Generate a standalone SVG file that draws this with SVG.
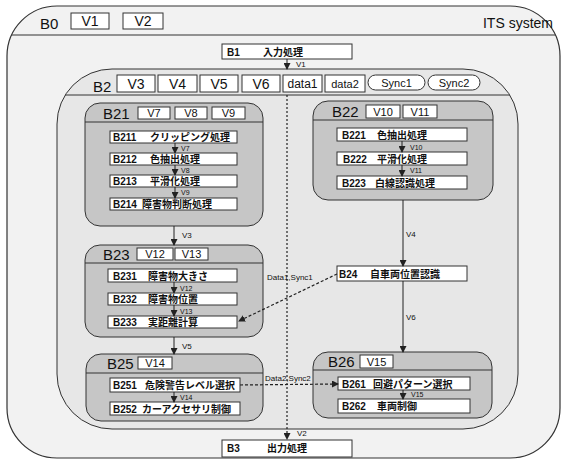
<svg xmlns="http://www.w3.org/2000/svg" width="565" height="460" viewBox="0 0 565 460">
<style>
.t{font-family:"Liberation Sans","Noto Sans CJK JP",sans-serif;fill:#111}
.frame{fill:#f2f2f2;stroke:#333;stroke-width:1.2}
.b2{fill:#e7e7e7;stroke:#333;stroke-width:1}
.grp{fill:#c6c6c6;stroke:#333;stroke-width:1}
.box{fill:#fff;stroke:#333;stroke-width:1}
.hl{stroke:#333;stroke-width:1;fill:none}
.big{font-size:15px}
.hdr{font-size:14px}
.gh{font-size:11px}
.sm{font-size:10px;font-weight:bold}
.lbl{font-size:7px}
.lb8{font-size:8px}
.arr{stroke:#222;stroke-width:1;fill:none;marker-end:url(#ah)}
.dash{stroke:#222;stroke-width:1.2;fill:none;stroke-dasharray:3 2;marker-end:url(#ah)}
.dot{stroke:#222;stroke-width:1.2;fill:none;stroke-dasharray:2 2;marker-end:url(#ah)}
</style>
<defs>
<marker id="ah" markerWidth="7" markerHeight="7" refX="6" refY="3.5" orient="auto" markerUnits="userSpaceOnUse">
<path d="M0,0 L7,3.5 L0,7 Z" fill="#222"/>
</marker>
<clipPath id="c0"><rect x="7" y="6" width="553" height="452" rx="50" ry="50"/></clipPath>
<clipPath id="c2"><rect x="57" y="69" width="461" height="360" rx="55" ry="55"/></clipPath>
</defs>

<g id="B0">
<rect class="frame" x="7" y="6" width="553" height="452" rx="50" ry="50"/>
<line class="hl" x1="7" y1="35" x2="560" y2="35" clip-path="url(#c0)"/>
<text class="t big" x="40" y="29">B0</text>
<rect class="box" x="71" y="13" width="38" height="16"/>
<text class="t hdr" x="90" y="26" text-anchor="middle">V1</text>
<rect class="box" x="123" y="13" width="40" height="16"/>
<text class="t hdr" x="143" y="26" text-anchor="middle">V2</text>
<text class="t hdr" x="553" y="28" text-anchor="end">ITS system</text>
</g>

<g id="B1">
<rect class="box" x="222" y="44" width="130" height="15"/>
<text class="t sm" x="227" y="56">B1</text>
<text class="t sm" x="263" y="56">入力処理</text>
</g>

<g id="B2">
<rect class="b2" x="57" y="69" width="461" height="360" rx="55" ry="55"/>
<line class="hl" x1="57" y1="95" x2="518" y2="95" clip-path="url(#c2)"/>
<text class="t big" x="93" y="92">B2</text>
<rect class="box" x="117" y="75" width="38" height="17"/>
<text class="t hdr" x="136" y="89" text-anchor="middle">V3</text>
<rect class="box" x="158" y="75" width="39" height="17"/>
<text class="t hdr" x="177.5" y="89" text-anchor="middle">V4</text>
<rect class="box" x="200" y="75" width="38" height="17"/>
<text class="t hdr" x="219" y="89" text-anchor="middle">V5</text>
<rect class="box" x="242" y="75" width="38" height="17"/>
<text class="t hdr" x="261" y="89" text-anchor="middle">V6</text>
<rect class="box" x="283" y="75" width="39" height="17"/>
<text class="t" x="302.5" y="88" text-anchor="middle" font-size="12">data1</text>
<rect class="box" x="325" y="75" width="40" height="17"/>
<text class="t" x="345" y="88" text-anchor="middle" font-size="11">data2</text>
<rect class="box" x="368" y="75" width="57" height="15" rx="7.5" ry="7.5"/>
<text class="t" x="396.5" y="87" text-anchor="middle" font-size="11">Sync1</text>
<rect class="box" x="428" y="75" width="52" height="15" rx="7.5" ry="7.5"/>
<text class="t" x="454" y="87" text-anchor="middle" font-size="11">Sync2</text>
</g>

<g id="B21">
<rect class="grp" x="85" y="103" width="178" height="123" rx="15" ry="15"/>
<line class="hl" x1="85" y1="122" x2="263" y2="122"/>
<text class="t big" x="103" y="119">B21</text>
<rect class="box" x="138" y="107" width="32" height="12"/>
<text class="t gh" x="154" y="117" text-anchor="middle">V7</text>
<rect class="box" x="175" y="107" width="32" height="12"/>
<text class="t gh" x="191" y="117" text-anchor="middle">V8</text>
<rect class="box" x="212" y="107" width="33" height="12"/>
<text class="t gh" x="228.5" y="117" text-anchor="middle">V9</text>
</g>
<g id="B211"><rect class="box" x="110" y="131" width="127" height="12"/><text class="t sm" x="113" y="141">B211</text><text class="t sm" x="150" y="141">クリッピング処理</text></g>
<g id="B212"><rect class="box" x="110" y="153" width="127" height="12"/><text class="t sm" x="113" y="163">B212</text><text class="t sm" x="150" y="163">色抽出処理</text></g>
<g id="B213"><rect class="box" x="110" y="175" width="127" height="12"/><text class="t sm" x="113" y="185">B213</text><text class="t sm" x="150" y="185">平滑化処理</text></g>
<g id="B214"><rect class="box" x="110" y="198" width="127" height="12"/><text class="t sm" x="113" y="208">B214</text><text class="t sm" x="142" y="208">障害物判断処理</text></g>

<g id="B22">
<rect class="grp" x="313" y="101" width="180" height="99" rx="15" ry="15"/>
<line class="hl" x1="313" y1="120" x2="493" y2="120"/>
<text class="t big" x="332" y="117">B22</text>
<rect class="box" x="366" y="105" width="34" height="13"/>
<text class="t gh" x="383" y="115.5" text-anchor="middle">V10</text>
<rect class="box" x="403" y="105" width="34" height="13"/>
<text class="t gh" x="420" y="115.5" text-anchor="middle">V11</text>
</g>
<g id="B221"><rect class="box" x="337" y="128" width="130" height="13"/><text class="t sm" x="342" y="138.5">B221</text><text class="t sm" x="377" y="138.5">色抽出処理</text></g>
<g id="B222"><rect class="box" x="337" y="152" width="130" height="13"/><text class="t sm" x="343" y="162.5">B222</text><text class="t sm" x="377" y="162.5">平滑化処理</text></g>
<g id="B223"><rect class="box" x="337" y="176" width="130" height="13"/><text class="t sm" x="342" y="186.5">B223</text><text class="t sm" x="375" y="186.5">白線認識処理</text></g>

<g id="B23">
<rect class="grp" x="85" y="245" width="178" height="92" rx="15" ry="15"/>
<line class="hl" x1="85" y1="263" x2="263" y2="263"/>
<text class="t big" x="103" y="260">B23</text>
<rect class="box" x="137" y="248" width="36" height="12"/>
<text class="t gh" x="155" y="258" text-anchor="middle">V12</text>
<rect class="box" x="175" y="248" width="33" height="12"/>
<text class="t gh" x="191.5" y="258" text-anchor="middle">V13</text>
</g>
<g id="B231"><rect class="box" x="108" y="269" width="129" height="13"/><text class="t sm" x="113" y="279.5">B231</text><text class="t sm" x="148" y="279.5">障害物大きさ</text></g>
<g id="B232"><rect class="box" x="108" y="293" width="129" height="12"/><text class="t sm" x="113" y="303">B232</text><text class="t sm" x="148" y="303">障害物位置</text></g>
<g id="B233"><rect class="box" x="108" y="316" width="129" height="12"/><text class="t sm" x="113" y="326">B233</text><text class="t sm" x="148" y="326">実距離計算</text></g>

<g id="B24">
<rect class="box" x="337" y="266" width="130" height="15"/>
<text class="t sm" x="339" y="277.5">B24</text>
<text class="t sm" x="370" y="277.5">自車両位置認識</text>
</g>

<g id="B25">
<rect class="grp" x="86" y="354" width="177" height="67" rx="15" ry="15"/>
<line class="hl" x1="86" y1="373" x2="263" y2="373"/>
<text class="t big" x="107" y="369">B25</text>
<rect class="box" x="138" y="357" width="34" height="12"/>
<text class="t gh" x="155" y="367" text-anchor="middle">V14</text>
</g>
<g id="B251"><rect class="box" x="110" y="378" width="130" height="14"/><text class="t sm" x="113" y="389">B251</text><text class="t sm" x="145" y="389">危険警告レベル選択</text></g>
<g id="B252"><rect class="box" x="110" y="402" width="130" height="13"/><text class="t sm" x="113" y="412.5">B252</text><text class="t sm" x="142" y="412.5">カーアクセサリ制御</text></g>

<g id="B26">
<rect class="grp" x="313" y="352" width="179" height="66" rx="15" ry="15"/>
<line class="hl" x1="313" y1="370" x2="492" y2="370"/>
<text class="t big" x="328" y="367">B26</text>
<rect class="box" x="360" y="355" width="33" height="13"/>
<text class="t gh" x="376.5" y="365.5" text-anchor="middle">V15</text>
</g>
<g id="B261"><rect class="box" x="338" y="377" width="132" height="13"/><text class="t sm" x="342" y="387.5">B261</text><text class="t sm" x="373" y="387.5">回避パターン選択</text></g>
<g id="B262"><rect class="box" x="338" y="399" width="132" height="14"/><text class="t sm" x="342" y="410">B262</text><text class="t sm" x="377" y="410">車両制御</text></g>

<g id="B3">
<rect class="box" x="222" y="440" width="130" height="17"/>
<text class="t sm" x="227" y="452">B3</text>
<text class="t sm" x="267" y="452">出力処理</text>
</g>

<g id="connectors">
<line class="arr" x1="287" y1="59" x2="287" y2="69"/>
<text class="t lb8" x="296" y="67">V1</text>
<line class="dot" x1="287" y1="95" x2="287" y2="439"/>
<text class="t lb8" x="297" y="436">V2</text>

<line class="arr" x1="175" y1="143" x2="175" y2="153"/><text class="t lbl" x="181" y="151">V7</text>
<line class="arr" x1="175" y1="165" x2="175" y2="175"/><text class="t lbl" x="181" y="173">V8</text>
<line class="arr" x1="175" y1="187" x2="175" y2="198"/><text class="t lbl" x="181" y="195">V9</text>

<line class="arr" x1="402" y1="141" x2="402" y2="152"/><text class="t lbl" x="410" y="150">V10</text>
<line class="arr" x1="402" y1="165" x2="402" y2="176"/><text class="t lbl" x="410" y="173">V11</text>

<line class="arr" x1="174" y1="226" x2="174" y2="245"/><text class="t lb8" x="182" y="238">V3</text>
<line class="arr" x1="403" y1="200" x2="403" y2="266"/><text class="t lb8" x="406" y="237">V4</text>
<line class="arr" x1="403" y1="281" x2="403" y2="352"/><text class="t lb8" x="406" y="320">V6</text>

<line class="arr" x1="174" y1="282" x2="174" y2="293"/><text class="t lbl" x="180" y="291">V12</text>
<line class="arr" x1="174" y1="305" x2="174" y2="316"/><text class="t lbl" x="180" y="314">V13</text>

<line class="arr" x1="174" y1="337" x2="174" y2="354"/><text class="t lb8" x="182" y="349">V5</text>
<line class="arr" x1="174" y1="392" x2="174" y2="402"/><text class="t lbl" x="180" y="400">V14</text>
<line class="arr" x1="403" y1="390" x2="403" y2="399"/><text class="t lbl" x="411" y="397">V15</text>

<line class="dash" x1="337" y1="274" x2="239" y2="321"/>
<text class="t lb8" x="267" y="280">Data1,Sync1</text>
<line class="dash" x1="240" y1="385" x2="338" y2="384"/>
<text class="t lb8" x="265" y="381">Data2,Sync2</text>
</g>
</svg>
